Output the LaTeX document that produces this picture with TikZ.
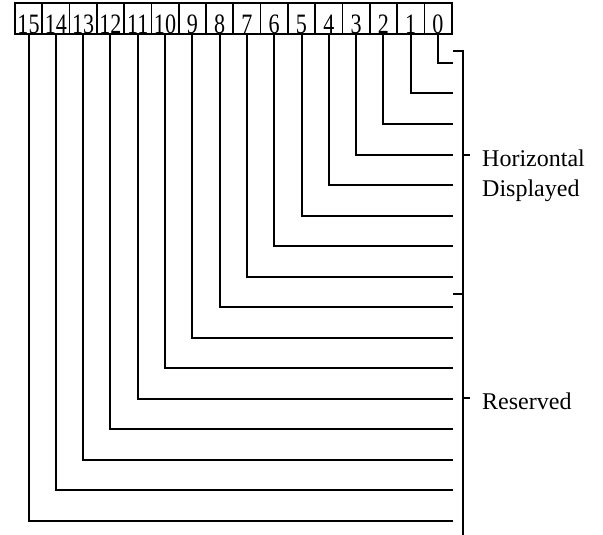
\documentclass[tikz,border=0pt]{standalone}
\usepackage{fontspec}
\usepackage{graphicx}
\setmainfont{Liberation Serif}
\begin{document}
\begin{tikzpicture}[x=1pt,y=-1pt,
  bitbox/.style={draw,line width=1.7pt,minimum width=27.3pt,minimum height=31pt,inner sep=0pt,anchor=north west},
  wire/.style={line width=2pt},
  lbl/.style={anchor=base west,inner sep=0pt,font=\fontsize{24}{24}\selectfont}]
\useasboundingbox (0,0) rectangle (603,535);
\foreach \b in {0,...,15}{
  \pgfmathsetmacro{\xl}{14+(15-\b)*27.3}
  \node[bitbox] (b\b) at (\xl,2) {};
  \node[inner sep=0pt,anchor=base] (t\b) at ([yshift=1.6pt]b\b.south) {\fontsize{24}{24}\selectfont\scalebox{0.92}[1.17]{\b}};
  \pgfmathsetmacro{\yy}{63+30.5*\b}
  \coordinate (e\b) at (453,\yy);
  \draw[wire] (b\b.south) |- (e\b);
}
\coordinate (bt) at (463,51);
\coordinate (btl) at (453,51);
\coordinate (bb) at (463,535);
\coordinate (bm) at (463,294);
\coordinate (bml) at (453,294);
\coordinate (h1) at (463,155);
\coordinate (h2) at (470,155);
\coordinate (r1) at (463,398);
\coordinate (r2) at (470,398);
\draw[wire] (btl) -- (bt) -- (bb);
\draw[wire] (bml) -- (bm);
\draw[wire] (h1) -- (h2);
\draw[wire] (r1) -- (r2);
\node[lbl] (hz) at (482,166.7) {Horizontal};
\node[lbl] (dp) at (482,196.7) {Displayed};
\node[lbl] (rs) at (482,409) {Reserved};
\end{tikzpicture}
\end{document}
